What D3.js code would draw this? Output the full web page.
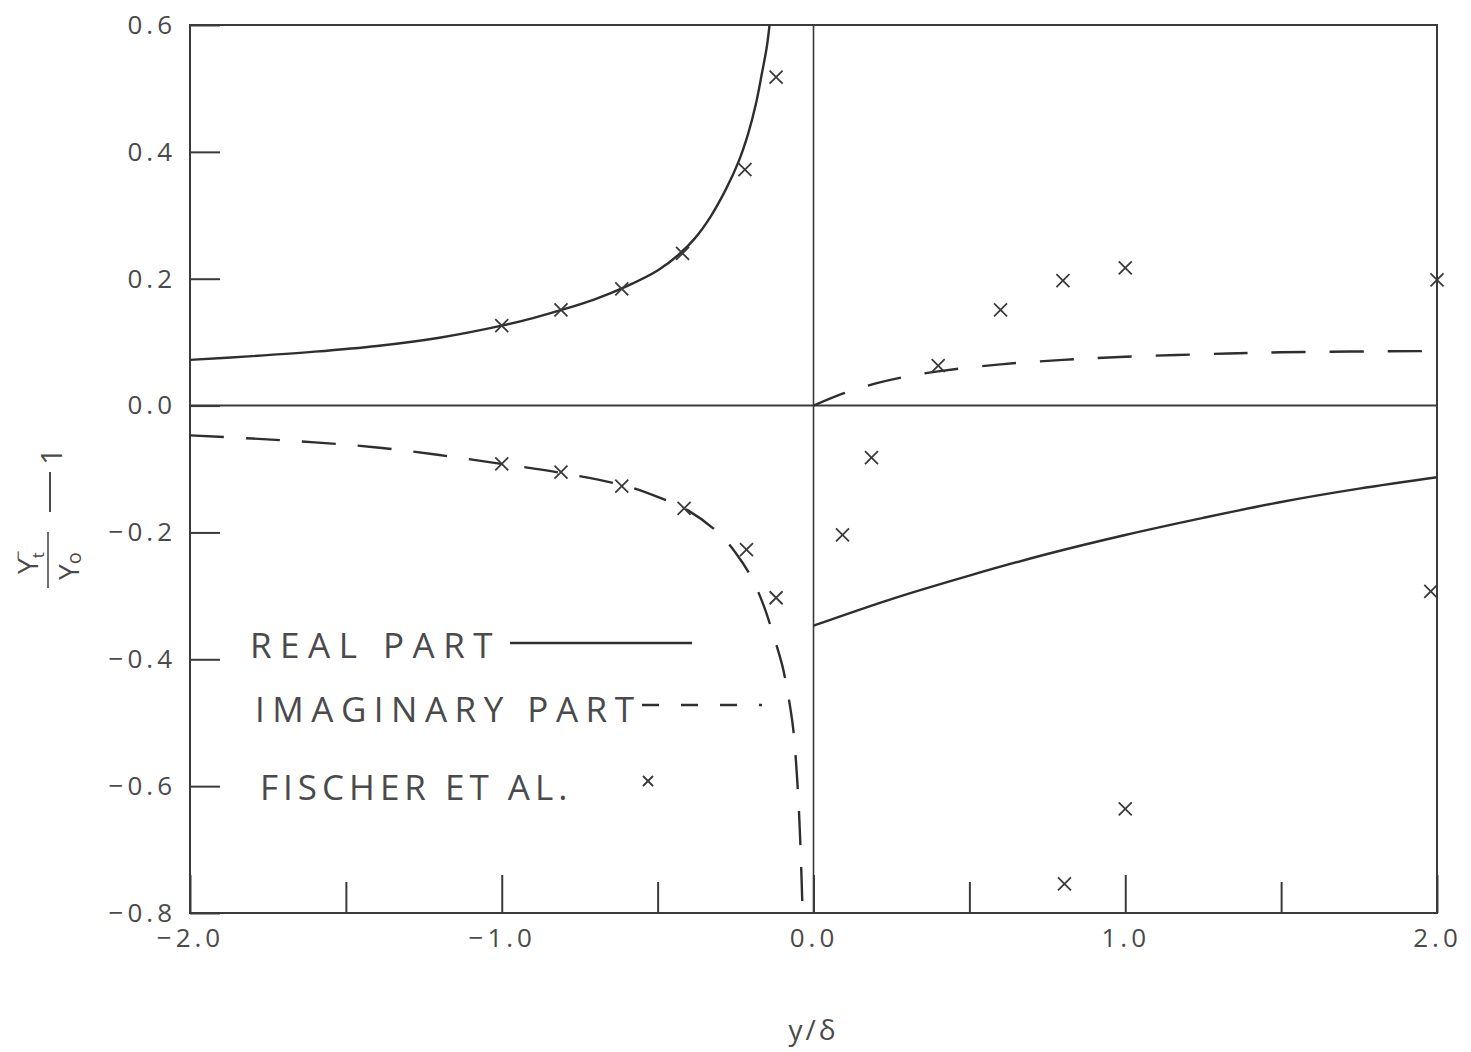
<!DOCTYPE html>
<html>
<head>
<meta charset="utf-8">
<script src="https://cdn.jsdelivr.net/npm/d3@7"></script>
<style>
  body { margin: 0; background: #fff; }
  svg text { font-family: "Open Sans", "Liberation Sans", sans-serif; fill: #4a4a4a; }
</style>
</head>
<body>
<div id="chart"></div>
<script>
// real part, y < 0 side
const realLeftX = [-2.0, -1.8, -1.6, -1.4, -1.2, -1.0, -0.9, -0.8, -0.7, -0.6, -0.5, -0.43, -0.38, -0.33, -0.28, -0.24, -0.21, -0.185, -0.165, -0.15, -0.141];
const realLeftY = [0.072, 0.078, 0.085, 0.094, 0.107, 0.126, 0.138, 0.152, 0.168, 0.188, 0.213, 0.239, 0.264, 0.298, 0.342, 0.385, 0.428, 0.475, 0.525, 0.565, 0.60];
// real part, y > 0 side
const realRightX = [0, 0.25, 0.5, 0.75, 1.0, 1.25, 1.5, 1.75, 2.0];
const realRightY = [-0.347, -0.305, -0.268, -0.234, -0.204, -0.177, -0.152, -0.131, -0.113];
// imaginary part
const imagLeftX = [-2.0, -1.8, -1.6, -1.4, -1.2, -1.0, -0.8, -0.6, -0.5, -0.4, -0.3, -0.25, -0.2, -0.16, -0.13, -0.1, -0.08, -0.065, -0.055, -0.047, -0.04, -0.035];
const imagLeftY = [-0.047, -0.052, -0.058, -0.066, -0.078, -0.092, -0.107, -0.127, -0.144, -0.166, -0.203, -0.232, -0.27, -0.315, -0.36, -0.41, -0.46, -0.51, -0.57, -0.635, -0.72, -0.80];
const imagRightX = [0, 0.1, 0.2, 0.3, 0.4, 0.6, 0.8, 1.0, 1.25, 1.5, 2.0];
const imagRightY = [0, 0.02, 0.035, 0.046, 0.054, 0.065, 0.072, 0.077, 0.081, 0.084, 0.086];
// Fischer et al. measurements
const fischerX = [-1.0, -0.81, -0.615, -0.42, -0.22, -0.12, -1.0, -0.81, -0.615, -0.415, -0.215, -0.12, 0.4, 0.6, 0.8, 1.0, 2.0, 0.093, 0.186, 0.805, 1.0, 1.98];
const fischerY = [0.126, 0.151, 0.184, 0.24, 0.372, 0.518, -0.092, -0.105, -0.127, -0.162, -0.227, -0.303, 0.063, 0.151, 0.197, 0.217, 0.198, -0.204, -0.082, -0.754, -0.636, -0.293];

const yTicks = [-0.8, -0.6, -0.4, -0.2, 0.0, 0.2, 0.4, 0.6];
const xMajor = [-2.0, -1.0, 0.0, 1.0, 2.0];
const xMinor = [-1.5, -0.5, 0.5, 1.5];
const legendItems = ["REAL PART", "IMAGINARY PART", "FISCHER ET AL."];

const W = 1471, H = 1052;
const margin = {top: 25, right: 34, bottom: 139, left: 190};
const width = W - margin.left - margin.right;
const height = H - margin.top - margin.bottom;

const svg = d3.select("#chart").append("svg")
    .attr("width", W)
    .attr("height", H);

const g = svg.append("g")
    .attr("transform", `translate(${margin.left},${margin.top})`);

const x = d3.scaleLinear().domain([-2, 2]).range([0, width]);
const y = d3.scaleLinear().domain([-0.8, 0.6]).range([height, 0]);

const ink = "#2e2e2e";

// frame
g.append("rect")
    .attr("width", width).attr("height", height)
    .attr("fill", "none").attr("stroke", "#3a3a3a").attr("stroke-width", 2);
g.append("line")
    .attr("x1", x(0)).attr("x2", x(0)).attr("y1", 0).attr("y2", height)
    .attr("stroke", "#3a3a3a").attr("stroke-width", 1.6);
g.append("line")
    .attr("x1", 0).attr("x2", width).attr("y1", y(0)).attr("y2", y(0))
    .attr("stroke", "#3a3a3a").attr("stroke-width", 2);

// y axis, ticks pointing inward
const yAxis = g.append("g")
    .call(d3.axisLeft(y).tickValues(yTicks).tickSize(-30)
        .tickFormat(d => d3.format(".1f")(d).replace("-", "\u2212")));
yAxis.select(".domain").remove();
yAxis.selectAll("line").attr("stroke", "#3a3a3a").attr("stroke-width", 2);
yAxis.selectAll("text")
    .attr("x", -14)
    .style("font-size", "26px").style("letter-spacing", "4px");

// x axis
const xAxis = g.append("g")
    .attr("transform", `translate(0,${height})`)
    .call(d3.axisBottom(x).tickValues(xMajor).tickSize(-38)
        .tickFormat(d => d3.format(".1f")(d).replace("-", "\u2212 ")));
xAxis.select(".domain").remove();
xAxis.selectAll("line").attr("stroke", "#3a3a3a").attr("stroke-width", 2);
xAxis.selectAll("text")
    .attr("y", 16)
    .style("font-size", "26px").style("letter-spacing", "4px");

const xAxisMinor = g.append("g")
    .attr("transform", `translate(0,${height})`)
    .call(d3.axisBottom(x).tickValues(xMinor).tickSize(-31).tickFormat(""));
xAxisMinor.select(".domain").remove();
xAxisMinor.selectAll("line").attr("stroke", "#3a3a3a").attr("stroke-width", 2);

// curves
const line = d3.line()
    .x(d => x(d[0]))
    .y(d => y(d[1]))
    .curve(d3.curveCatmullRom.alpha(0.5));

const zip = (a, b) => a.map((v, i) => [v, b[i]]);

g.append("clipPath").attr("id", "plotClip")
    .append("rect").attr("width", width).attr("height", height);

const curves = g.append("g").attr("clip-path", "url(#plotClip)");

curves.append("path").datum(zip(realLeftX, realLeftY))
    .attr("d", line).attr("fill", "none").attr("stroke", ink).attr("stroke-width", 2.4);
curves.append("path").datum(zip(realRightX, realRightY))
    .attr("d", line).attr("fill", "none").attr("stroke", ink).attr("stroke-width", 2.4);
curves.append("path").datum(zip(imagLeftX, imagLeftY))
    .attr("d", line).attr("fill", "none").attr("stroke", ink).attr("stroke-width", 2.4)
    .attr("stroke-dasharray", "34,22");
curves.append("path").datum(zip(imagRightX, imagRightY))
    .attr("d", line).attr("fill", "none").attr("stroke", ink).attr("stroke-width", 2.4)
    .attr("stroke-dasharray", "34,24");

// x markers
const cross = (cx, cy, r) => `M${cx - r},${cy - r}L${cx + r},${cy + r}M${cx - r},${cy + r}L${cx + r},${cy - r}`;

g.append("g").selectAll("path")
    .data(zip(fischerX, fischerY))
    .join("path")
    .attr("d", d => cross(x(d[0]), y(d[1]), 6.5))
    .attr("fill", "none").attr("stroke", "#3a3a3a").attr("stroke-width", 1.8);

// legend
const legend = g.append("g");
const legendX = 60, legendY = [658, 722, 800];
const legendSpacing = [8.5, 7.5, 5];
legend.selectAll("text")
    .data(legendItems)
    .join("text")
    .attr("x", (d, i) => legendX + i * 5)
    .attr("y", (d, i) => legendY[i] - margin.top)
    .style("font-size", "35px")
    .style("letter-spacing", (d, i) => legendSpacing[i] + "px")
    .text(d => d);

legend.append("line")
    .attr("x1", 320).attr("x2", 502)
    .attr("y1", 643 - margin.top).attr("y2", 643 - margin.top)
    .attr("stroke", ink).attr("stroke-width", 2.4);
legend.append("line")
    .attr("x1", 452).attr("x2", 572)
    .attr("y1", 705 - margin.top).attr("y2", 705 - margin.top)
    .attr("stroke", ink).attr("stroke-width", 2.4)
    .attr("stroke-dasharray", "17,22");
legend.append("path")
    .attr("d", cross(458, 781 - margin.top, 5))
    .attr("fill", "none").attr("stroke", "#3a3a3a").attr("stroke-width", 1.8);

// axis titles
svg.append("text")
    .attr("x", margin.left + x(0))
    .attr("y", 1040)
    .attr("text-anchor", "middle")
    .style("font-size", "28px")
    .style("letter-spacing", "3px")
    .text("y/\u03b4");

const yl = svg.append("g").attr("transform", "translate(48,560) rotate(-90)");
const num = yl.append("text").attr("x", -14).attr("y", -10).style("font-size", "28px");
num.append("tspan").text("Y");
num.append("tspan").attr("dy", 6).style("font-size", "17px").text("t");
num.append("tspan").attr("dx", -8).attr("dy", -20).style("font-size", "17px").text("\u2212");
yl.append("line")
    .attr("x1", -28).attr("x2", 28).attr("y1", 0).attr("y2", 0)
    .attr("stroke", "#4a4a4a").attr("stroke-width", 1.6);
const den = yl.append("text").attr("x", -20).attr("y", 31).style("font-size", "28px");
den.append("tspan").text("Y");
den.append("tspan").attr("dy", 2).style("font-size", "20px").text("o");
yl.append("line")
    .attr("x1", 48).attr("x2", 88).attr("y1", 2).attr("y2", 2)
    .attr("stroke", "#4a4a4a").attr("stroke-width", 2);
yl.append("text").attr("x", 95).attr("y", 14).style("font-size", "30px").text("1");
</script>
</body>
</html>
